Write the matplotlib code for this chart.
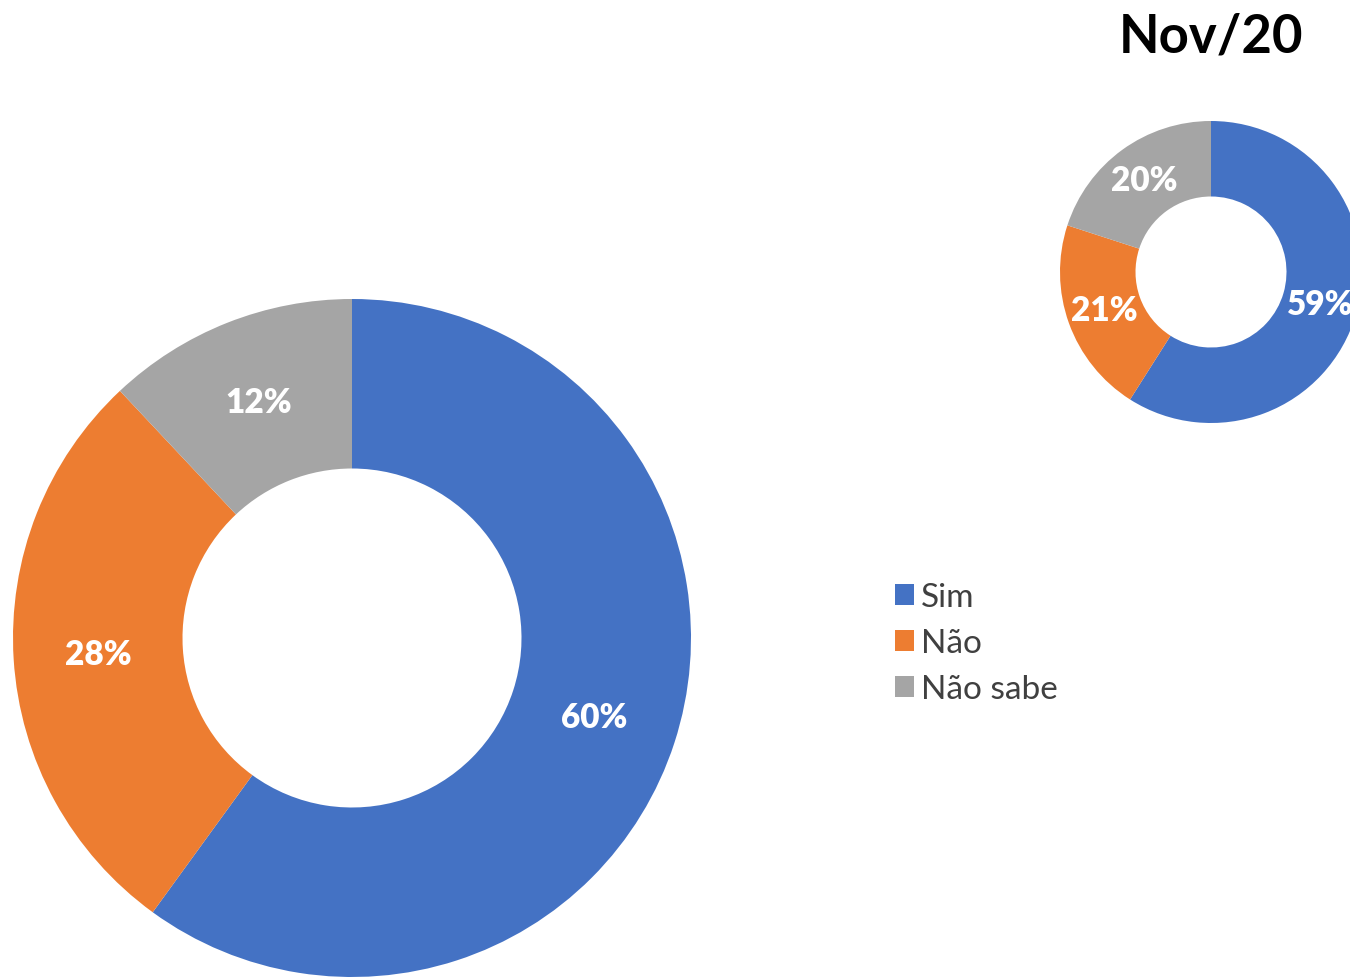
import matplotlib
matplotlib.use("Agg")
import matplotlib.pyplot as plt

categories = ["Sim", "Não", "Não sabe"]
current_values = [60, 28, 12]
nov20_values = [59, 21, 20]
nov20_title = "Nov/20"
colors = ["#4472C4", "#ED7D31", "#A5A5A5"]

W, H = 1350, 978
fig = plt.figure(figsize=(W / 100, H / 100), dpi=100)
fig.patch.set_facecolor("white")

def px_axes(cx, cy, r):
    return fig.add_axes([(cx - r) / W, (H - cy - r) / H, 2 * r / W, 2 * r / H])

lab_font = dict(family=["Lato", "DejaVu Sans"], weight="heavy", color="white")

# Big donut
ax1 = px_axes(352, 639, 339)
wedges, texts, autotexts = ax1.pie(
    current_values, colors=colors, startangle=90, counterclock=False,
    radius=1.0, wedgeprops=dict(width=0.5, linewidth=0),
    autopct=lambda p: f"{p:.0f}%", pctdistance=0.75,
    textprops=dict(fontsize=24, **lab_font))
ax1.set_xlim(-1, 1); ax1.set_ylim(-1, 1); ax1.set_aspect("equal"); ax1.axis("off")

# Small donut
ax2 = px_axes(1211, 273, 151)
ax2.pie(
    nov20_values, colors=colors, startangle=90, counterclock=False,
    radius=1.0, wedgeprops=dict(width=0.5, linewidth=0),
    autopct=lambda p: f"{p:.0f}%", pctdistance=0.75,
    textprops=dict(fontsize=24, **lab_font))
ax2.set_xlim(-1, 1); ax2.set_ylim(-1, 1); ax2.set_aspect("equal"); ax2.axis("off")

fig.text(1211 / W, 1 - 37 / H, nov20_title, ha="center", va="center",
         fontsize=38, fontweight="bold", family=["Lato", "DejaVu Sans"], color="black")

leg = fig.legend(wedges, categories, loc="upper left",
                 bbox_to_anchor=(895 / W, 1 - 583 / H), frameon=False,
                 prop=dict(family=["Lato", "DejaVu Sans"], size=24),
                 handlelength=0.58, handleheight=0.58, handletextpad=0.2,
                 labelspacing=0.48, borderpad=0, borderaxespad=0)
for t in leg.get_texts():
    t.set_color("#404040")

fig.savefig("out.png", dpi=100, facecolor="white")
